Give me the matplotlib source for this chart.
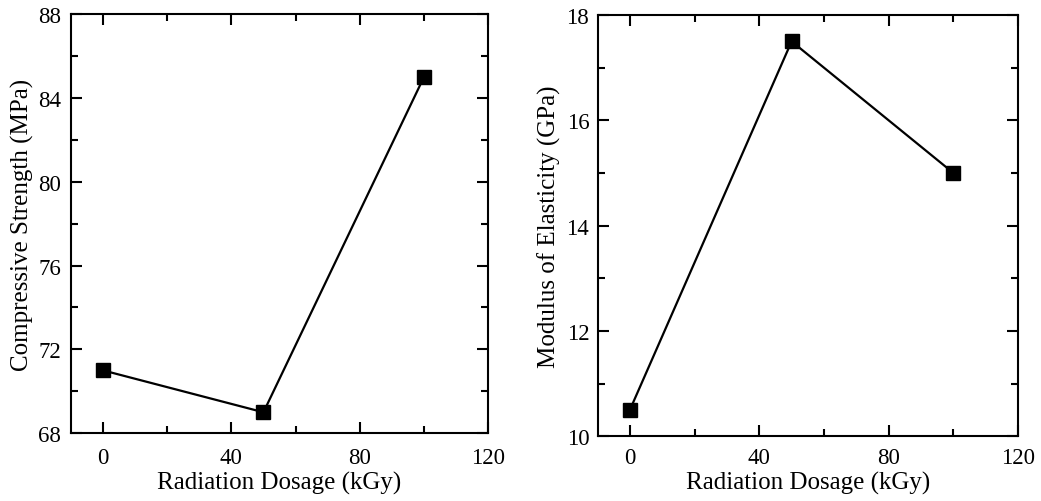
import matplotlib
matplotlib.use("Agg")
import matplotlib.pyplot as plt
from matplotlib.ticker import MultipleLocator

dose = [0, 50, 100]
strength = [71, 69, 85]
modulus = [10.5, 17.5, 15]

plt.rcParams['font.family'] = ['Liberation Serif', 'DejaVu Serif']
plt.rcParams['font.size'] = 18

fig = plt.figure(figsize=(10.41, 5.02), dpi=100)
ax1 = fig.add_axes([0.068, 0.135, 0.401, 0.835])
ax2 = fig.add_axes([0.574, 0.129, 0.404, 0.839])


def style(ax, ymaj, ymin, xpad, ypad):
    ax.xaxis.set_major_locator(MultipleLocator(40))
    ax.xaxis.set_minor_locator(MultipleLocator(20))
    ax.yaxis.set_major_locator(MultipleLocator(ymaj))
    ax.yaxis.set_minor_locator(MultipleLocator(ymin))
    ax.tick_params(which='both', direction='in', top=True, right=True, width=1.5,
                   labelsize=16.5)
    ax.tick_params(which='major', length=8)
    ax.tick_params(which='minor', length=5)
    ax.tick_params(axis='x', pad=xpad)
    ax.tick_params(axis='y', pad=ypad)
    for s in ax.spines.values():
        s.set_linewidth(1.5)
    ax.set_xlim(-10, 120)
    ax.set_xlabel("Radiation Dosage (kGy)", labelpad=2)


ax1.plot(dose, strength, color='black', lw=1.6, marker='s', ms=10)
style(ax1, 4, 2, 10, 7)
ax1.set_ylim(68, 88)
ax1.set_ylabel("Compressive Strength (MPa)", labelpad=3)

ax2.plot(dose, modulus, color='black', lw=1.6, marker='s', ms=10)
style(ax2, 2, 1, 8, 6)
ax2.set_ylim(10, 18)
ax2.set_ylabel("Modulus of Elasticity (GPa)", labelpad=4)

fig.savefig("out.png", dpi=100)
